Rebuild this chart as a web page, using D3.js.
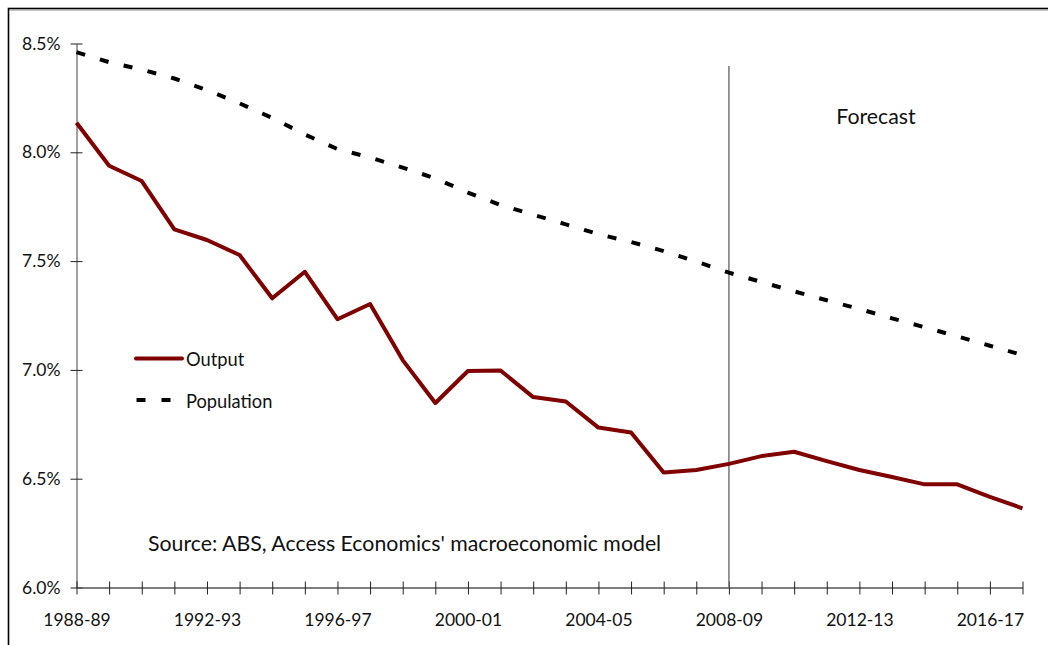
<!DOCTYPE html>
<html>
<head>
<meta charset="utf-8">
<script src="https://cdn.jsdelivr.net/npm/d3@7"></script>
<style>
  body { margin: 0; background: #fff; }
  svg text { font-family: Lato, "Open Sans", sans-serif; fill: #111; }
</style>
</head>
<body>
<div id="chart"></div>
<script>
// financial years on the x axis
const years = ["1988-89", "1989-90", "1990-91", "1991-92", "1992-93", "1993-94",
  "1994-95", "1995-96", "1996-97", "1997-98", "1998-99", "1999-00", "2000-01",
  "2001-02", "2002-03", "2003-04", "2004-05", "2005-06", "2006-07", "2007-08",
  "2008-09", "2009-10", "2010-11", "2011-12", "2012-13", "2013-14", "2014-15",
  "2015-16", "2016-17", "2017-18"];

// share, per cent
const output = [8.136, 7.938, 7.868, 7.646, 7.597, 7.528, 7.329, 7.451, 7.233, 7.303,
  7.045, 6.848, 6.995, 6.997, 6.875, 6.855, 6.735, 6.712, 6.528, 6.540,
  6.568, 6.604, 6.624, 6.581, 6.540, 6.508, 6.474, 6.474, 6.416, 6.364];

const population = [8.460, 8.414, 8.380, 8.339, 8.286, 8.225, 8.158, 8.082, 8.015, 7.976,
  7.930, 7.880, 7.815, 7.758, 7.713, 7.669, 7.624, 7.588, 7.546, 7.498,
  7.447, 7.404, 7.361, 7.320, 7.280, 7.237, 7.196, 7.154, 7.111, 7.068];

const yTicks = [6.0, 6.5, 7.0, 7.5, 8.0, 8.5];
const forecastStart = "2008-09";

let width = 1048, height = 645;

let svg = d3.select("#chart").append("svg")
  .attr("width", width)
  .attr("height", height);

// frame round the chart (right and bottom fall off the picture)
svg.append("line").attr("x1", 8).attr("x2", width).attr("y1", 10.2).attr("y2", 10.2)
  .attr("stroke", "#aaa").attr("stroke-width", 1);
svg.append("rect")
  .attr("x", 8.5).attr("y", 8.5)
  .attr("width", width + 20).attr("height", height + 20)
  .attr("fill", "none").attr("stroke", "#000").attr("stroke-width", 1.6);

let x = d3.scalePoint().domain(years).range([76.5, 1022.5]);
let y = d3.scaleLinear().domain([6, 8.5]).range([587.5, 43.5]);

// y axis
let yAxis = svg.append("g")
  .attr("transform", "translate(76.5,0)")
  .call(d3.axisLeft(y)
    .tickValues(yTicks)
    .tickSize(6)
    .tickSizeOuter(0)
    .tickPadding(10)
    .tickFormat(d => d.toFixed(1) + "%"));
yAxis.selectAll(".tick line").attr("x1", -6).attr("x2", 6).attr("stroke", "#222");
yAxis.select(".domain").attr("stroke", "#777").attr("stroke-width", 1.4);
yAxis.selectAll("text").style("font-size", "17.5px").attr("fill", "#111");

// x axis, a tick every year, a label every four
let xAxis = svg.append("g")
  .attr("transform", "translate(0,587.5)")
  .call(d3.axisBottom(x)
    .tickSize(6)
    .tickSizeOuter(0)
    .tickFormat((d, i) => i % 4 == 0 ? d : ""));
xAxis.selectAll(".tick line").attr("y1", -6).attr("y2", 7).attr("stroke", "#222");
xAxis.select(".domain").attr("stroke", "#555").attr("stroke-width", 1.4);
xAxis.selectAll("text").style("font-size", "17.5px").attr("fill", "#111")
  .attr("y", 26);

// forecast divider
svg.append("line")
  .attr("x1", x(forecastStart)).attr("x2", x(forecastStart))
  .attr("y1", 66).attr("y2", y(6))
  .attr("stroke", "#777").attr("stroke-width", 1.5);

svg.append("text")
  .attr("x", 876).attr("y", 124)
  .attr("text-anchor", "middle")
  .style("font-size", "21.3px")
  .text("Forecast");

let line = d3.line()
  .x((d, i) => x(years[i]))
  .y(d => y(d));

svg.append("path")
  .datum(population)
  .attr("d", line)
  .attr("fill", "none")
  .attr("stroke", "#000")
  .attr("stroke-width", 4)
  .attr("stroke-dasharray", "9,15.5");

svg.append("path")
  .datum(output)
  .attr("d", line)
  .attr("fill", "none")
  .attr("stroke", "#800000")
  .attr("stroke-width", 4)
  .attr("stroke-linejoin", "round");

// legend
let legend = svg.append("g");
legend.append("line")
  .attr("x1", 136).attr("x2", 182).attr("y1", 358.5).attr("y2", 358.5)
  .attr("stroke", "#800000").attr("stroke-width", 4).attr("stroke-linecap", "round");
legend.append("text").attr("x", 186).attr("y", 366).style("font-size", "18.3px").text("Output");
legend.append("line")
  .attr("x1", 136.5).attr("x2", 182).attr("y1", 400).attr("y2", 400)
  .attr("stroke", "#000").attr("stroke-width", 4).attr("stroke-dasharray", "9,16");
legend.append("text").attr("x", 186).attr("y", 407.5).style("font-size", "18.3px").text("Population");

svg.append("text")
  .attr("x", 148).attr("y", 551)
  .style("font-size", "21.3px")
  .text("Source: ABS, Access Economics' macroeconomic model");
</script>
</body>
</html>
